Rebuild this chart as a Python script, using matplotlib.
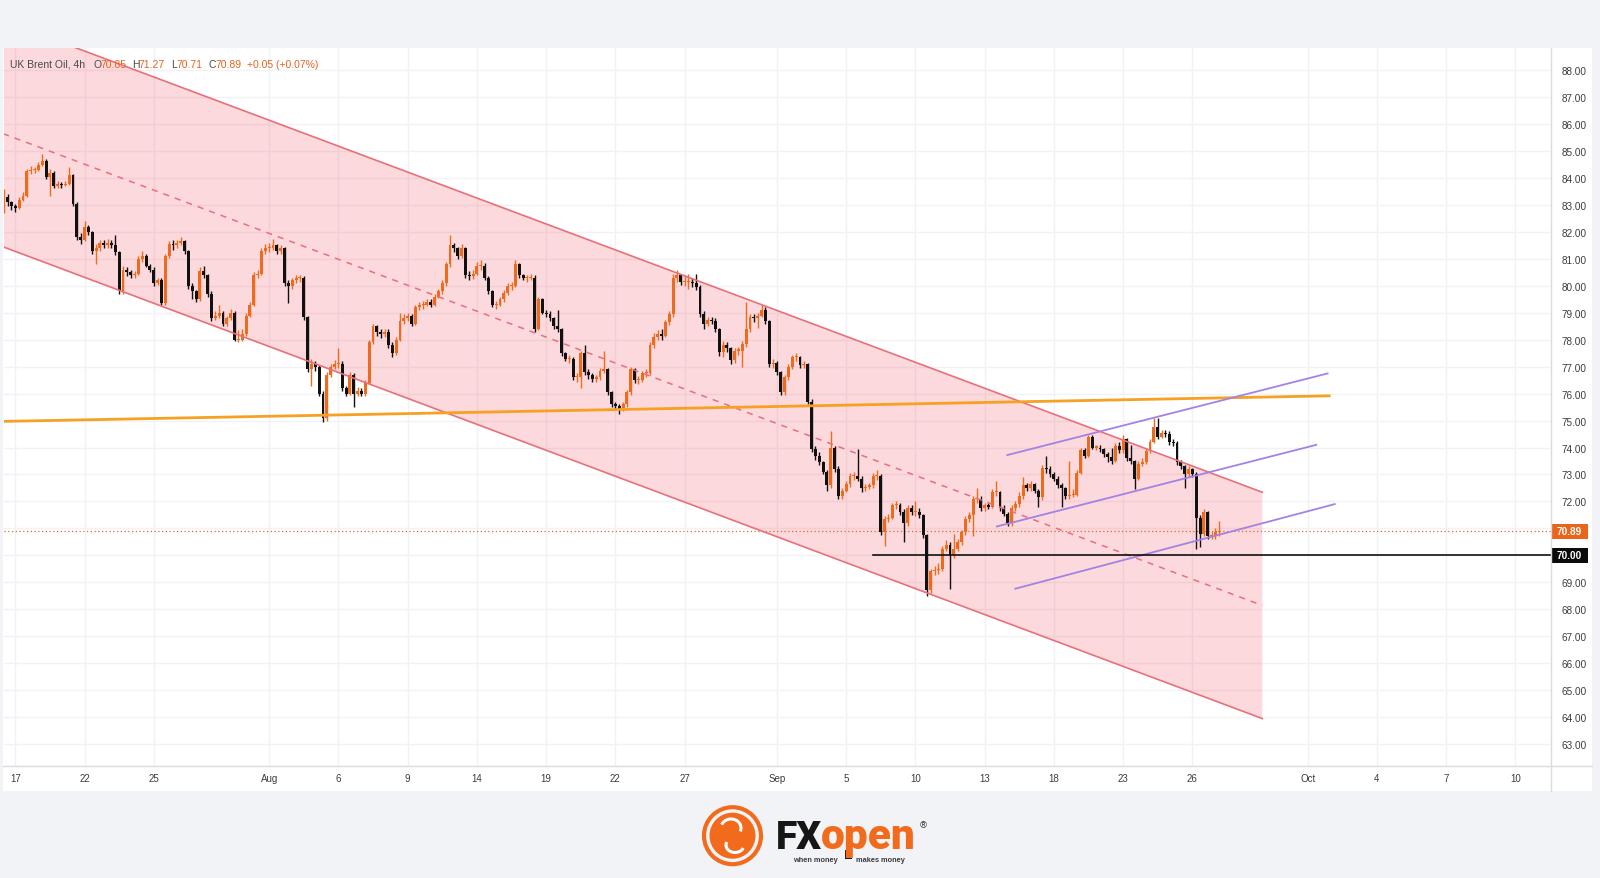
import numpy as np
import matplotlib
matplotlib.use("Agg")
import matplotlib.pyplot as plt
from matplotlib.patches import Rectangle, Circle, Polygon, Arc
import matplotlib.transforms as mtransforms

# ---------------- data ----------------
symbol = "UK Brent Oil, 4h"
bars_per_day = 6
first_bar = -3            # bar index of first visible candle (bar 0 = first 4h bar of Jul 17)
first_open = 82.80
legend_change = 0.05
legend_change_pct = 0.07

closes = [
    83.30, 83.10, 82.95,
    82.90, 83.20, 83.35, 84.25, 84.30, 84.30,
    84.50, 84.65, 84.05, 84.20, 83.70, 83.80,
    83.75, 83.80, 84.10, 83.05, 81.80, 81.70,
    82.20, 82.00, 81.30, 81.40, 81.60, 81.50,
    81.60, 81.50, 81.25, 79.80, 80.60, 80.50,
    80.40, 80.45, 81.00, 81.10, 80.75, 80.60,
    80.10, 80.20, 79.35, 81.10, 81.55, 81.50,
    81.60, 81.65, 81.30, 80.00, 79.80, 79.50,
    80.55, 80.40, 79.70, 78.80, 78.90, 79.00,
    78.60, 78.80, 79.00, 78.00, 78.00, 78.20,
    78.90, 79.30, 80.40, 80.45, 81.30, 81.40,
    81.40, 81.50, 81.30, 81.40, 80.10, 80.00,
    80.20, 80.30, 80.30, 78.85, 76.90, 77.10,
    77.00, 76.00, 75.10, 76.70, 77.00, 77.10,
    77.10, 76.20, 76.00, 76.70, 76.00, 76.10,
    76.00, 76.40, 77.90, 78.50, 78.30, 78.20,
    78.30, 77.80, 77.50, 78.00, 78.70, 78.80,
    78.90, 78.60, 79.20, 79.30, 79.30, 79.40,
    79.30, 79.60, 79.80, 80.10, 80.80, 81.50,
    81.40, 81.10, 81.40, 80.40, 80.35, 80.45,
    80.75, 80.75, 80.30, 79.80, 79.30, 79.30,
    79.50, 79.75, 80.00, 80.00, 80.80, 80.40,
    80.30, 80.30, 80.30, 78.40, 79.50, 79.00,
    78.95, 78.80, 78.50, 78.40, 77.50, 77.30,
    77.30, 76.60, 76.60, 77.50, 76.80, 76.70,
    76.55, 76.60, 76.85, 76.90, 76.05, 75.60,
    75.55, 75.40, 75.60, 76.05, 76.90, 76.50,
    76.50, 76.75, 76.75, 77.80, 78.10, 78.20,
    78.15, 78.65, 78.95, 80.30, 80.40, 80.15,
    80.15, 80.15, 80.10, 79.95, 78.95, 78.60,
    78.75, 78.70, 78.40, 77.55, 77.80, 77.70,
    77.25, 77.60, 77.60, 77.85, 78.40, 78.85,
    78.80, 78.90, 79.10, 78.70, 77.10, 77.15,
    76.80, 76.05, 76.60, 77.00, 77.35, 77.35,
    77.05, 77.10, 75.70, 73.95, 73.70, 73.45,
    73.10, 72.60, 74.00, 73.20, 72.20, 72.40,
    72.65, 72.95, 72.95, 72.85, 72.50, 72.55,
    72.60, 72.95, 72.95, 70.85, 71.35, 71.40,
    71.85, 71.85, 71.60, 71.20, 71.75, 71.60,
    71.60, 71.50, 70.75, 68.70, 69.40, 69.45,
    69.50, 70.25, 70.40, 70.00, 70.25, 70.50,
    70.85, 71.35, 71.50, 72.10, 72.10, 71.75,
    71.85, 71.80, 72.35, 72.35, 71.75, 71.55,
    71.20, 71.75, 71.90, 72.20, 72.60, 72.50,
    72.65, 72.40, 72.15, 73.25, 73.20, 73.00,
    72.85, 72.60, 72.50, 72.20, 72.25, 72.25,
    73.05, 73.90, 73.70, 74.40, 74.00, 74.00,
    73.95, 73.75, 73.65, 73.50, 74.05, 73.90,
    74.30, 73.60, 73.50, 72.85, 73.40, 73.45,
    73.88, 74.20, 74.75, 74.40, 74.55, 74.50,
    74.20, 74.15, 73.45, 73.30, 73.00, 73.20,
    73.00, 71.40, 70.80, 71.60, 70.70, 70.75,
    70.85, 70.89,
]

highs = [
    83.60, 83.40, 83.15,
    83.05, 83.30, 83.50, 84.35, 84.45, 84.40,
    84.60, 84.90, 84.70, 84.35, 84.25, 83.90,
    83.85, 83.90, 84.40, 84.15, 83.10, 81.95,
    82.40, 82.25, 82.05, 81.55, 81.70, 81.70,
    81.75, 81.70, 81.90, 81.30, 80.75, 80.70,
    80.60, 80.55, 81.10, 81.30, 81.20, 80.80,
    80.70, 80.30, 80.30, 81.20, 81.65, 81.70,
    81.70, 81.80, 81.70, 81.35, 80.10, 79.85,
    80.70, 80.75, 80.45, 79.80, 79.05, 79.30,
    79.05, 78.90, 79.15, 79.05, 78.35, 78.40,
    79.00, 79.40, 80.50, 80.60, 81.40, 81.55,
    81.60, 81.75, 81.55, 81.50, 81.45, 80.20,
    80.30, 80.40, 80.40, 80.35, 78.90, 77.30,
    77.20, 77.05, 76.10, 76.80, 77.10, 77.25,
    77.70, 77.20, 76.30, 76.80, 76.75, 76.25,
    76.20, 76.50, 78.00, 78.60, 78.55, 78.40,
    78.40, 78.40, 77.90, 78.10, 79.00, 78.95,
    79.00, 78.95, 79.30, 79.40, 79.45, 79.50,
    79.50, 79.70, 79.90, 80.20, 80.90, 81.90,
    81.60, 81.45, 81.55, 81.45, 80.55, 80.60,
    80.90, 80.95, 80.85, 80.35, 79.85, 79.45,
    79.60, 79.85, 80.10, 80.15, 80.95, 80.85,
    80.45, 80.40, 80.45, 80.40, 79.60, 79.55,
    79.10, 79.05, 78.85, 79.10, 78.45, 77.55,
    77.45, 77.35, 76.75, 77.60, 77.80, 76.90,
    76.75, 76.70, 76.95, 77.60, 76.95, 76.10,
    75.70, 75.60, 75.70, 76.15, 77.00, 76.95,
    76.65, 76.85, 76.90, 77.90, 78.25, 78.35,
    78.40, 78.75, 79.05, 80.45, 80.60, 80.45,
    80.35, 80.45, 80.30, 80.45, 80.05, 79.05,
    78.85, 78.85, 78.80, 78.45, 77.95, 77.90,
    77.75, 77.70, 77.75, 77.95, 79.40, 78.95,
    78.95, 79.00, 79.30, 79.20, 78.75, 77.30,
    77.20, 76.85, 76.70, 77.10, 77.45, 77.50,
    77.40, 77.20, 77.15, 75.80, 74.05, 73.85,
    73.50, 73.15, 74.60, 74.05, 73.30, 72.50,
    72.75, 73.05, 73.10, 73.95, 72.95, 72.65,
    72.70, 73.05, 73.15, 73.00, 71.45, 71.55,
    71.95, 72.00, 71.95, 71.70, 71.85, 71.85,
    72.00, 71.75, 71.55, 70.80, 69.50, 69.60,
    69.70, 70.35, 70.55, 70.50, 70.80, 70.60,
    70.95, 71.45, 71.60, 72.20, 72.50, 72.20,
    71.95, 71.95, 72.45, 72.75, 72.40, 71.85,
    71.60, 71.85, 72.00, 72.35, 72.90, 72.70,
    72.75, 72.70, 72.45, 73.35, 73.70, 73.30,
    73.10, 72.95, 72.70, 72.55, 73.50, 72.45,
    73.15, 74.00, 74.00, 74.45, 74.45, 74.10,
    74.10, 74.00, 73.85, 74.00, 74.15, 74.20,
    74.45, 74.35, 74.10, 73.55, 73.50, 73.60,
    74.00, 74.30, 75.10, 75.10, 74.65, 74.65,
    74.60, 74.30, 74.25, 73.55, 73.35, 73.30,
    73.25, 73.10, 71.50, 71.70, 71.65, 70.85,
    71.00, 71.27,
]

lows = [
    82.70, 82.95, 82.80,
    82.75, 82.85, 83.15, 83.30, 84.15, 84.20,
    84.25, 84.45, 83.95, 83.35, 83.65, 83.65,
    83.65, 83.70, 83.75, 82.95, 81.70, 81.55,
    81.65, 81.90, 81.20, 80.80, 81.30, 81.40,
    81.40, 81.40, 81.15, 79.70, 79.70, 80.35,
    80.30, 80.30, 80.40, 80.90, 80.70, 80.50,
    80.00, 80.05, 79.30, 79.30, 81.05, 81.35,
    81.40, 81.50, 81.20, 79.90, 79.50, 79.40,
    79.45, 80.30, 79.60, 78.70, 78.75, 78.80,
    78.50, 78.50, 78.75, 77.95, 77.90, 77.95,
    78.15, 78.85, 79.25, 80.30, 80.40, 81.20,
    81.25, 81.35, 81.20, 81.20, 80.00, 79.35,
    79.90, 80.10, 80.15, 78.75, 76.80, 76.30,
    76.85, 75.90, 74.95, 75.00, 76.60, 76.90,
    76.95, 76.10, 75.90, 75.95, 75.50, 75.90,
    75.90, 75.90, 76.35, 77.85, 78.15, 78.05,
    78.10, 77.70, 77.35, 77.45, 77.95, 78.60,
    78.70, 78.50, 78.55, 79.10, 79.15, 79.25,
    79.20, 79.25, 79.55, 79.70, 80.00, 80.70,
    81.25, 81.00, 81.05, 80.30, 80.20, 80.25,
    80.40, 80.60, 80.20, 79.70, 79.20, 79.15,
    79.25, 79.40, 79.65, 79.85, 79.95, 80.30,
    80.20, 80.15, 80.20, 78.30, 78.35, 78.95,
    78.85, 78.70, 78.40, 78.30, 77.40, 77.20,
    77.15, 76.50, 76.45, 76.20, 76.70, 76.55,
    76.45, 76.45, 76.50, 76.75, 75.95, 75.50,
    75.40, 75.25, 75.35, 75.50, 75.95, 76.40,
    76.35, 76.45, 76.60, 76.70, 77.70, 78.00,
    78.00, 78.10, 78.55, 78.85, 80.15, 80.05,
    80.00, 79.90, 79.95, 79.85, 78.85, 78.40,
    78.50, 78.60, 78.30, 77.40, 77.35, 77.55,
    77.10, 77.15, 77.45, 77.00, 77.75, 78.30,
    78.65, 78.45, 78.85, 78.60, 77.00, 76.95,
    76.70, 75.95, 75.95, 76.50, 76.90, 77.20,
    76.95, 76.95, 75.60, 73.85, 73.55, 73.35,
    73.00, 72.40, 72.50, 73.10, 72.10, 72.10,
    72.35, 72.55, 72.80, 72.75, 72.35, 72.40,
    72.45, 72.50, 72.80, 70.75, 70.35, 71.25,
    71.35, 71.70, 71.50, 70.50, 71.10, 71.50,
    71.45, 71.40, 70.65, 68.50, 68.60, 69.25,
    69.30, 69.40, 70.15, 68.75, 69.90, 70.15,
    70.40, 70.75, 71.25, 70.70, 71.95, 71.65,
    71.65, 71.70, 71.75, 72.20, 71.65, 71.45,
    71.10, 71.10, 71.65, 71.80, 72.10, 72.40,
    72.40, 72.30, 71.80, 72.05, 73.05, 72.90,
    72.75, 72.50, 71.80, 72.10, 72.10, 72.15,
    72.20, 73.00, 73.60, 73.65, 73.95, 73.90,
    73.85, 73.65, 73.45, 73.40, 73.45, 73.80,
    73.80, 73.50, 73.40, 72.45, 72.80, 73.30,
    73.40, 73.80, 74.15, 74.30, 74.35, 74.40,
    74.10, 74.05, 73.35, 73.20, 72.50, 72.90,
    72.90, 70.25, 70.30, 70.70, 70.60, 70.60,
    70.60, 70.71,
]

# date axis (trading-day index; future part in calendar days)
tick_labels = ["17", "22", "25", "Aug", "6", "9", "14", "19", "22", "27", "Sep",
               "5", "10", "13", "18", "23", "26", "Oct", "4", "7", "10"]
tick_days = [0, 3, 6, 11, 14, 17, 20, 23, 26, 29, 33, 36, 39, 42, 45, 48, 51, 56, 59, 62, 65]
price_ticks = list(range(63, 89))

# drawings (day index, price)
channel_x = [-0.53, 54.03]
channel_upper = [89.85, 72.34]
channel_mid = [85.65, 68.14]
channel_lower = [81.45, 63.94]
orange_line_x = [-0.53, 56.99]
orange_line_y = [74.97, 75.92]
purple_top = ([42.98, 56.86], [73.72, 76.75])
purple_mid = ([42.53, 56.37], [71.07, 74.10])
purple_bot = ([43.33, 57.17], [68.76, 71.90])
support_level = 70.00
support_start = 37.18

# ---------------- figure ----------------
W, H = 1600, 879
fig = plt.figure(figsize=(16, 8.79), dpi=100)
fig.patch.set_facecolor("#f1f3f6")

bg = fig.add_axes([0, 0, 1, 1], zorder=0)
bg.set_xlim(0, W); bg.set_ylim(H, 0); bg.axis("off")
bg.add_patch(Rectangle((3, 49), 1589, 743, facecolor="white", edgecolor="none"))

ax_l, ax_r, ax_t, ax_b = 4, 1551, 49, 766.7
ax = fig.add_axes([ax_l / W, 1 - ax_b / H, (ax_r - ax_l) / W, (ax_b - ax_t) / H], zorder=1)
ax.set_facecolor("white")
ax.set_xlim(-0.49, 66.54)
ax.set_ylim(62.19, 88.83)
for s in ax.spines.values():
    s.set_visible(False)

last = closes[-1]
FONT = "Liberation Sans"
ax.yaxis.tick_right()
ax.set_yticks(price_ticks)
# tick labels hidden where the price markers sit
ax.set_yticklabels(["" if abs(v - last) < 0.6 or abs(v - support_level) < 0.6 else f"{v:.2f}"
                    for v in price_ticks], family=FONT)
ax.set_xticks(tick_days)
ax.set_xticklabels(tick_labels, family=FONT)
ax.tick_params(axis="y", length=0, pad=7.5, labelsize=7.2, labelcolor="#3c3c3c")
ax.tick_params(axis="x", length=0, pad=5.5, labelsize=7.0, labelcolor="#3c3c3c")
ax.grid(True, color="#f0f2f6", lw=1.0, zorder=0)
ax.set_axisbelow(True)

# channel fill
poly = Polygon([[channel_x[0], channel_upper[0]], [channel_x[1], channel_upper[1]],
                [channel_x[1], channel_lower[1]], [channel_x[0], channel_lower[0]]],
               closed=True, facecolor="#f23645", alpha=0.19, edgecolor="none", zorder=1)
ax.add_patch(poly)

# candles
c = np.array(closes)
h = np.array(highs)
l = np.array(lows)
o = np.concatenate([[first_open], c[:-1]])
x = (np.arange(len(c)) + first_bar) / bars_per_day
UP, DOWN = "#ee6a1d", "#111111"
cols = np.where(c >= o, UP, DOWN)
top = np.maximum.reduce([h, o, c])
bot = np.minimum.reduce([l, o, c])
ax.vlines(x, bot, top, colors=cols, lw=1.0, zorder=4)
body = np.maximum(np.abs(c - o), 0.04)
ax.bar(x, body, bottom=np.minimum(o, c), width=0.76 / bars_per_day, color=cols, lw=0, zorder=5)

RED = "#e8707a"
ax.plot(channel_x, channel_upper, color=RED, lw=1.2, zorder=6)
ax.plot(channel_x, channel_lower, color=RED, lw=1.2, zorder=6)
ax.plot(channel_x, channel_mid, color=RED, lw=1.1, ls=(0, (4, 4)), zorder=6)
ax.plot(orange_line_x, orange_line_y, color="#f6a124", lw=2.0, zorder=6, solid_capstyle="butt")
PURPLE = "#a283e3"
for px, py in (purple_top, purple_mid, purple_bot):
    ax.plot(px, py, color=PURPLE, lw=1.3, zorder=6)
ax.plot([support_start, 66.54], [support_level, support_level], color="#111111", lw=1.2, zorder=6)
ax.axhline(last, color="#ea6419", lw=0.9, ls=(0, (1, 2)), zorder=3)

# price-axis markers
trans = mtransforms.blended_transform_factory(ax.transAxes, ax.transData)
box_w = 37 / (ax_r - ax_l)
box_h = 14.5 / ((ax_b - ax_t) / (88.83 - 62.19))
for val, fc in ((last, "#ea6419"), (support_level, "#0b0b0b")):
    ax.add_patch(Rectangle((1.0, val - box_h / 2), box_w, box_h, transform=trans,
                           facecolor=fc, edgecolor="none", clip_on=False, zorder=10))
    ax.text(1.0 + box_w / 2, val, f"{val:.2f}", transform=trans, ha="center", va="center",
            color="white", fontsize=7.2, fontweight="bold", family=FONT, zorder=11, clip_on=False)

# overlay: separators, legend, logo
ov = fig.add_axes([0, 0, 1, 1], zorder=20)
ov.set_xlim(0, W); ov.set_ylim(H, 0); ov.axis("off")
ov.patch.set_alpha(0)
ov.plot([ax_r, ax_r], [49, 792], color="#d9dbe0", lw=1.0)
ov.plot([3, 1592], [ax_b, ax_b], color="#d9dbe0", lw=1.0)

GRAY, ORG = "#4a4a4a", "#e8621c"
LY = 64.8
ov.text(10, LY, symbol, fontsize=7.5, color=GRAY, va="center", ha="left", family=FONT)
parts = [(93, "O", GRAY), (100, f"{o[-1]:.2f}", ORG),
         (132, "H", GRAY), (138.5, f"{h[-1]:.2f}", ORG),
         (171, "L", GRAY), (176.5, f"{l[-1]:.2f}", ORG),
         (208.5, "C", GRAY), (215, f"{c[-1]:.2f}", ORG),
         (247, f"{legend_change:+.2f} ({legend_change_pct:+.2f}%)", ORG)]
for px_, txt, col in parts:
    ov.text(px_, LY, txt, fontsize=7.5, color=col, va="center", ha="left", family=FONT)

# logo
LOGO = "#f26b1d"
ov.add_patch(Circle((732.5, 836.7), 28.5, facecolor="none", edgecolor=LOGO, lw=3.0))
ov.add_patch(Circle((732.5, 836.7), 23, facecolor=LOGO, edgecolor="none"))
ov.add_patch(Arc((731, 829), 20, 18, theta1=200, theta2=20, color="white", lw=2.2))
ov.add_patch(Arc((735, 846), 18, 15, theta1=20, theta2=200, color="white", lw=2.2))
ov.text(776, 849.5, "FX", fontsize=28, fontweight="heavy", color="#161616", family="Roboto",
        ha="left", va="baseline")
t_open = ov.text(821, 849.5, "open", fontsize=30.5, fontweight="heavy", color=LOGO, family="Roboto",
                 ha="left", va="baseline")
clip = Rectangle((700, 800), 300, 53, transform=ov.transData)
t_open.set_clip_path(clip)
ov.text(923, 826, "®", fontsize=6.5, color="#333333", family="DejaVu Sans", ha="center", va="center")
ov.text(793, 861, "when money", fontsize=5.3, fontweight="bold", color="#3a3a3a", family=FONT,
        ha="left", va="center")
ov.add_patch(Rectangle((845, 851), 7, 9.5, facecolor="#161616", edgecolor="none"))
ov.text(856, 861, "makes money", fontsize=5.3, fontweight="bold", color="#3a3a3a", family=FONT,
        ha="left", va="center")

fig.savefig("out.png", dpi=100, facecolor=fig.get_facecolor())
